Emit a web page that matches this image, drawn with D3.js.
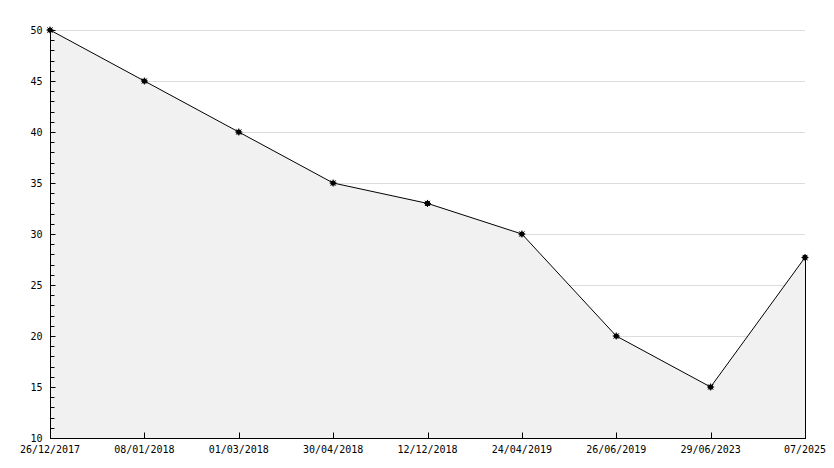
<!DOCTYPE html>
<html><head><meta charset="utf-8">
<script src="https://cdn.jsdelivr.net/npm/d3@7"></script>
<style>body{margin:0;background:#fff}svg{display:block}text{font-family:"DejaVu Sans Mono",monospace;font-size:10px;fill:#000}</style>
</head><body><svg id="c" width="834" height="468"></svg>
<script>
const categories = ["26/12/2017","08/01/2018","01/03/2018","30/04/2018","12/12/2018","24/04/2019","26/06/2019","29/06/2023","07/2025"];
const values = [50,45,40,35,33,30,20,15,27.7];
const yTicks = [10,15,20,25,30,35,40,45,50];

const svg = d3.select("#c");
const L=50,R=805,T=30,B=438;
const x = d3.scalePoint().domain(categories).range([L,R]);
const y = d3.scaleLinear().domain([10,50]).range([B,T]);

// gridlines
svg.append("g").selectAll("line").data(yTicks.filter(v=>v>10)).join("line")
  .attr("x1",L).attr("x2",R).attr("y1",d=>y(d)+0.5).attr("y2",d=>y(d)+0.5)
  .attr("stroke","#dcdcdc").attr("stroke-width",1);

// area
const area = d3.area().x((d,i)=>x(categories[i])).y0(B).y1(d=>y(d));
svg.append("path").datum(values).attr("d",area).attr("fill","#f1f1f1");
// right edge
svg.append("line").attr("x1",R+0.5).attr("x2",R+0.5).attr("y1",y(values[values.length-1])).attr("y2",B).attr("stroke","#000");

// line
const line = d3.line().x((d,i)=>x(categories[i])).y(d=>y(d));
svg.append("path").datum(values).attr("d",line).attr("fill","none").attr("stroke","#000").attr("stroke-width",1);

// y axis
const ya = svg.append("g").attr("transform",`translate(${L+0.5},0)`);
ya.append("line").attr("y1",T).attr("y2",B).attr("stroke","#000");
const minor = d3.range(10,51,1);
ya.selectAll("line.t").data(minor).join("line").attr("class","t")
  .attr("x1",0).attr("x2",d=>d%5===0?5:4).attr("y1",d=>Math.round(y(d))+0.5).attr("y2",d=>Math.round(y(d))+0.5).attr("stroke","#000");
ya.selectAll("text").data(yTicks).join("text")
  .attr("x",-8).attr("y",d=>y(d)).attr("dy","0.35em").attr("text-anchor","end").text(d=>d);

// x axis
const xa = svg.append("g").attr("transform",`translate(0,${B+0.5})`);
xa.append("line").attr("x1",L).attr("x2",R+1).attr("stroke","#000");
xa.selectAll("line.t").data(categories).join("line").attr("class","t")
  .attr("x1",d=>Math.round(x(d))+0.5).attr("x2",d=>Math.round(x(d))+0.5).attr("y1",0).attr("y2",-6).attr("stroke","#000");
xa.selectAll("text").data(categories).join("text")
  .attr("x",d=>x(d)).attr("y",14).attr("text-anchor","middle").text(d=>d);

// markers
const mk = svg.append("g").selectAll("g").data(values).join("g")
  .attr("transform",(d,i)=>`translate(${x(categories[i])},${y(d)})`);
mk.append("circle").attr("r",2.6).attr("fill","#000");
mk.append("path").attr("d","M-3.5,0H3.5M0,-3.5V3.5M-2.6,-2.6L2.6,2.6M-2.6,2.6L2.6,-2.6").attr("stroke","#000").attr("stroke-width",1);
</script></body></html>
